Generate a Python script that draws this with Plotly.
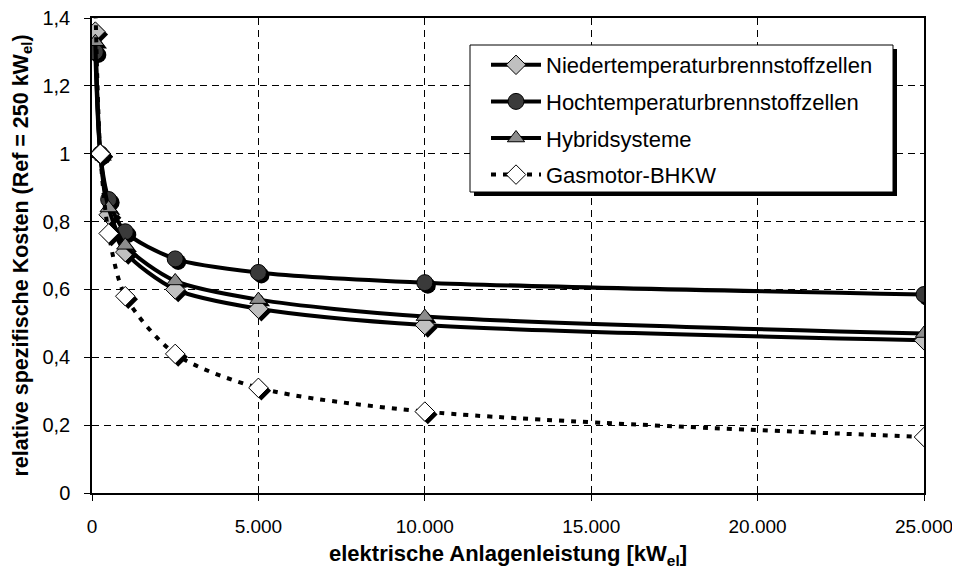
import plotly.graph_objs as go

# Werte
leistung_kw = [100, 250, 500, 1000, 2500, 5000, 10000, 25000]
nt_bz = [1.36, 1.0, 0.82, 0.71, 0.60, 0.543, 0.495, 0.45]
ht_bz = [1.30, 1.0, 0.865, 0.77, 0.69, 0.65, 0.62, 0.585]
hybrid = [1.33, 1.0, 0.84, 0.73, 0.625, 0.57, 0.52, 0.47]
gasmotor = [1.45, 1.0, 0.765, 0.58, 0.41, 0.31, 0.24, 0.165]

namen = ['Niedertemperaturbrennstoffzellen', 'Hochtemperaturbrennstoffzellen',
         'Hybridsysteme', 'Gasmotor-BHKW']
x_ticks = [0, 5000, 10000, 15000, 20000, 25000]
y_ticks = [0, 0.2, 0.4, 0.6, 0.8, 1.0, 1.2, 1.4]
x_titel = 'elektrische Anlagenleistung [kW<sub>el</sub>]'
y_titel = 'relative spezifische Kosten (Ref = 250 kW<sub>el</sub>)'

FONT = 'Liberation Sans, Arial, sans-serif'
# die Seite hat 8px Rand im Body -> Figur entsprechend kleiner
PAGE = 8
W, H = 960 - PAGE, 574 - PAGE
M_L, M_R, M_T, M_B = 92 - PAGE, 36, 18 - PAGE, 81
PLOT_W = W - M_L - M_R
PLOT_H = H - M_T - M_B
X_MAX, Y_MAX = 25000, 1.4
SHADOW = 3  # px

serien = [
    (nt_bz, 'diamond', '#c0c0c0', 'solid', 15),
    (ht_bz, 'circle', '#3a3a3a', 'solid', 16),
    (hybrid, 'triangle-up', '#8c8c8c', 'solid', 15),
    (gasmotor, 'diamond', '#ffffff', '5px,7px', 15),
]

fig = go.Figure()

# Schatten der Marker (versetzte, unsichtbare Achsen)
for werte, symbol, farbe, dash, size in serien:
    fig.add_trace(go.Scatter(
        x=leistung_kw, y=werte, mode='markers', xaxis='x', yaxis='y',
        marker=dict(symbol=symbol, size=size, color='black', line=dict(width=0)),
        showlegend=False, hoverinfo='skip'))

# Eigentliche Kurven
for i, (werte, symbol, farbe, dash, size) in enumerate(serien):
    fig.add_trace(go.Scatter(
        x=leistung_kw, y=werte, mode='lines+markers', name=namen[i],
        xaxis='x2', yaxis='y2', legendgroup=str(i),
        line=dict(color='black', width=4, dash=dash, shape='spline', smoothing=0.8),
        marker=dict(symbol=symbol, size=size, color=farbe, line=dict(color='black', width=1))))

dx = SHADOW / PLOT_W * X_MAX
dy = SHADOW / PLOT_H * Y_MAX

titel_font = dict(family=FONT, color='black', weight='bold')


# Pixel (Seite) -> paper
def px_x(p):
    return (p - PAGE - M_L) / PLOT_W


def px_y(p):
    return (H - M_B - (p - PAGE)) / PLOT_H


# Legendenrahmen mit Schatten
leg_l, leg_r, leg_t, leg_b = 470, 893, 45, 192
shapes = [
    dict(type='rect', xref='paper', yref='paper', layer='above',
         x0=px_x(leg_l + 4), x1=px_x(leg_r + 4), y0=px_y(leg_b + 4), y1=px_y(leg_t + 4),
         fillcolor='black', line=dict(width=0)),
    dict(type='rect', xref='paper', yref='paper', layer='above',
         x0=px_x(leg_l), x1=px_x(leg_r), y0=px_y(leg_b), y1=px_y(leg_t),
         fillcolor='white', line=dict(color='black', width=1)),
]

# Achsentitel als Annotationen
annotations = [
    dict(text=y_titel, textangle=-90, xref='paper', yref='paper',
         x=px_x(22), y=0.5, xanchor='center', yanchor='middle', showarrow=False,
         font=dict(titel_font, size=21.5)),
    dict(text=x_titel, xref='paper', yref='paper',
         x=0.5, y=px_y(555), xanchor='center', yanchor='middle', showarrow=False,
         font=dict(titel_font, size=22)),
]

fig.update_layout(
    width=W, height=H,
    margin=dict(l=M_L, r=M_R, t=M_T, b=M_B),
    paper_bgcolor='white', plot_bgcolor='white',
    separators=',.',
    font=dict(family=FONT, color='black'),
    shapes=shapes,
    annotations=annotations,
    xaxis=dict(visible=False, range=[-dx, X_MAX - dx]),
    yaxis=dict(visible=False, range=[dy, Y_MAX + dy]),
    xaxis2=dict(overlaying='x', anchor='y2', range=[0, X_MAX], automargin=False,
                tickvals=x_ticks, tickformat=',d',
                tickfont=dict(family=FONT, size=19, color='black'),
                ticks='outside', ticklen=6, tickcolor='black',
                ticklabelstandoff=9, ticklabeloverflow='allow',
                showline=True, linecolor='black', linewidth=1.5, mirror=True,
                showgrid=True, gridcolor='black', gridwidth=1, griddash='7px,5px',
                zeroline=False),
    yaxis2=dict(overlaying='y', anchor='x2', range=[0, Y_MAX], automargin=False,
                tickvals=y_ticks,
                tickfont=dict(family=FONT, size=20, color='black'),
                ticks='outside', ticklen=6, tickcolor='black',
                ticklabelstandoff=10, ticklabeloverflow='allow',
                showline=True, linecolor='black', linewidth=1.5, mirror=True,
                showgrid=True, gridcolor='black', gridwidth=1, griddash='7px,5px',
                zeroline=False),
    legend=dict(x=px_x(486), y=px_y(44), xanchor='left', yanchor='top',
                bgcolor='rgba(0,0,0,0)', borderwidth=0, tracegroupgap=5,
                itemwidth=50,
                font=dict(family=FONT, size=22, color='black')),
)

fig.write_html('out.html')
